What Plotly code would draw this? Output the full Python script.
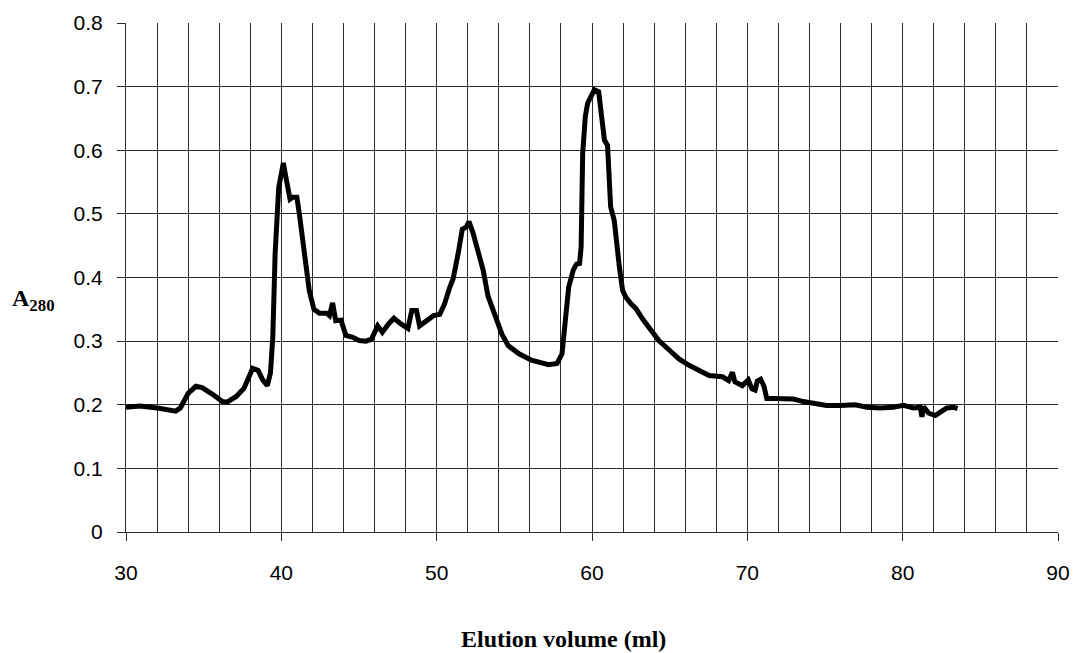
import plotly.graph_objects as go

# Elution volume (ml)
volume = [30.0, 30.9, 32.0, 33.2, 33.5, 34.0, 34.5, 34.9, 35.6, 36.2, 36.5, 37.1, 37.6,
          38.15, 38.5, 38.8, 39.1, 39.3, 39.45, 39.6, 39.83, 39.98, 40.13, 40.26, 40.4,
          40.56, 40.73, 41.0, 41.16, 41.37, 41.6, 41.8, 42.1, 42.45, 42.9, 43.1, 43.3,
          43.5, 43.84, 44.16, 44.6, 45.0, 45.45, 45.8, 46.2, 46.5, 46.9, 47.25, 47.7,
          48.15, 48.4, 48.7, 48.9, 49.3, 49.8, 50.2, 50.5, 50.85, 51.06, 51.4, 51.65,
          51.9, 52.08, 52.35, 52.7, 53.0, 53.3, 53.8, 54.2, 54.6, 55.3, 56.1, 56.8,
          57.2, 57.75, 58.07, 58.24, 58.5, 58.8, 59.0, 59.2, 59.3, 59.4, 59.57, 59.72,
          59.94, 60.15, 60.43, 60.58, 60.8, 61.0, 61.1, 61.2, 61.43, 61.6, 61.76, 61.97,
          62.18, 62.5, 62.83, 63.25, 63.8, 64.3, 64.97, 65.6, 66.25, 66.9, 67.54, 68.4,
          68.8, 69.04, 69.2, 69.68, 70.06, 70.3, 70.5, 70.64, 70.86, 71.07, 71.25, 71.7,
          72.3, 72.96, 73.6, 74.25, 75.1, 75.97, 76.94, 77.7, 78.55, 79.4, 80.05, 80.7,
          81.13, 81.24, 81.35, 81.66, 82.1, 82.4, 82.85, 83.3, 83.53]

# Absorbance at 280 nm
a280 = [0.196, 0.198, 0.195, 0.190, 0.195, 0.218, 0.229, 0.227, 0.216, 0.205, 0.204, 0.213, 0.226,
        0.257, 0.254, 0.239, 0.230, 0.250, 0.306, 0.437, 0.541, 0.562, 0.580, 0.562, 0.547,
        0.523, 0.526, 0.526, 0.500, 0.460, 0.405, 0.379, 0.350, 0.344, 0.344, 0.340, 0.360,
        0.332, 0.333, 0.309, 0.306, 0.301, 0.300, 0.303, 0.324, 0.314, 0.327, 0.336, 0.327,
        0.320, 0.348, 0.348, 0.324, 0.332, 0.340, 0.342, 0.358, 0.385, 0.398, 0.440, 0.476,
        0.479, 0.488, 0.469, 0.440, 0.411, 0.371, 0.340, 0.311, 0.293, 0.280, 0.270, 0.266,
        0.263, 0.265, 0.280, 0.322, 0.385, 0.412, 0.421, 0.422, 0.448, 0.595, 0.653, 0.674,
        0.684, 0.695, 0.692, 0.663, 0.616, 0.608, 0.564, 0.511, 0.490, 0.448, 0.417, 0.380,
        0.369, 0.359, 0.351, 0.335, 0.317, 0.301, 0.286, 0.272, 0.262, 0.254, 0.246, 0.244,
        0.238, 0.251, 0.236, 0.230, 0.239, 0.225, 0.223, 0.237, 0.240, 0.229, 0.210, 0.210,
        0.210, 0.209, 0.205, 0.202, 0.199, 0.199, 0.200, 0.196, 0.195, 0.196, 0.199, 0.195,
        0.196, 0.181, 0.197, 0.187, 0.183, 0.188, 0.195, 0.196, 0.194]

x_ticks = [30, 40, 50, 60, 70, 80, 90]
y_ticks = [0, 0.1, 0.2, 0.3, 0.4, 0.5, 0.6, 0.7, 0.8]
y_tick_text = ["0", "0.1", "0.2", "0.3", "0.4", "0.5", "0.6", "0.7", "0.8"]

W, H = 1073, 653
# plot area in page pixels: x 126..1058, y 23..532
L, R, T, B = 126, 1073 - 1058, 23, 653 - 532
PW, PH = W - L - R, H - T - B


def px(page_x):
    return (page_x - L) / PW


def py(page_y):
    return (H - B - page_y) / PH


fig = go.Figure()
fig.add_trace(go.Scatter(x=volume, y=a280, mode="lines",
                         line=dict(color="black", width=5), showlegend=False))

grid_col = "#2a2a2a"
tick_font = dict(family="Liberation Sans, Arial, sans-serif", size=21, color="black")

fig.update_layout(
    width=W, height=H,
    margin=dict(l=L, r=R, t=T, b=B, autoexpand=False),
    paper_bgcolor="white", plot_bgcolor="white",
    xaxis=dict(range=[30, 90], tickvals=x_ticks, ticks="outside", ticklen=8,
               tickcolor=grid_col, tickwidth=1, showgrid=True, gridcolor=grid_col,
               gridwidth=1, zeroline=False, showline=True, linecolor=grid_col,
               linewidth=1, tickfont=tick_font, ticklabelstandoff=14, automargin=False,
               minor=dict(dtick=2, showgrid=True, gridcolor=grid_col, gridwidth=1, ticks="")),
    yaxis=dict(range=[0, 0.8], tickvals=y_ticks, ticktext=y_tick_text, ticks="outside",
               ticklen=8, tickcolor=grid_col, tickwidth=1, showgrid=True,
               gridcolor=grid_col, gridwidth=1, zeroline=False, showline=True,
               linecolor=grid_col, linewidth=1, tickfont=tick_font, ticklabelstandoff=10,
               automargin=False),
    annotations=[
        dict(text="<b>Elution volume (ml)</b>", xref="paper", yref="paper",
             x=px(563), y=py(639), xanchor="center", yanchor="middle", showarrow=False,
             font=dict(family="Liberation Serif, Times New Roman, serif", size=24, color="black")),
        dict(text="<b>A<sub>280</sub></b>", xref="paper", yref="paper",
             x=px(33), y=py(300), xanchor="center", yanchor="middle", showarrow=False,
             font=dict(family="Liberation Serif, Times New Roman, serif", size=24, color="black")),
    ],
)

# remove the default page margin so the figure fills the 1073x653 window exactly
fig.write_html("out.html", config={"displayModeBar": False},
               post_script="document.body.style.margin='0';document.body.style.overflow='hidden';")
